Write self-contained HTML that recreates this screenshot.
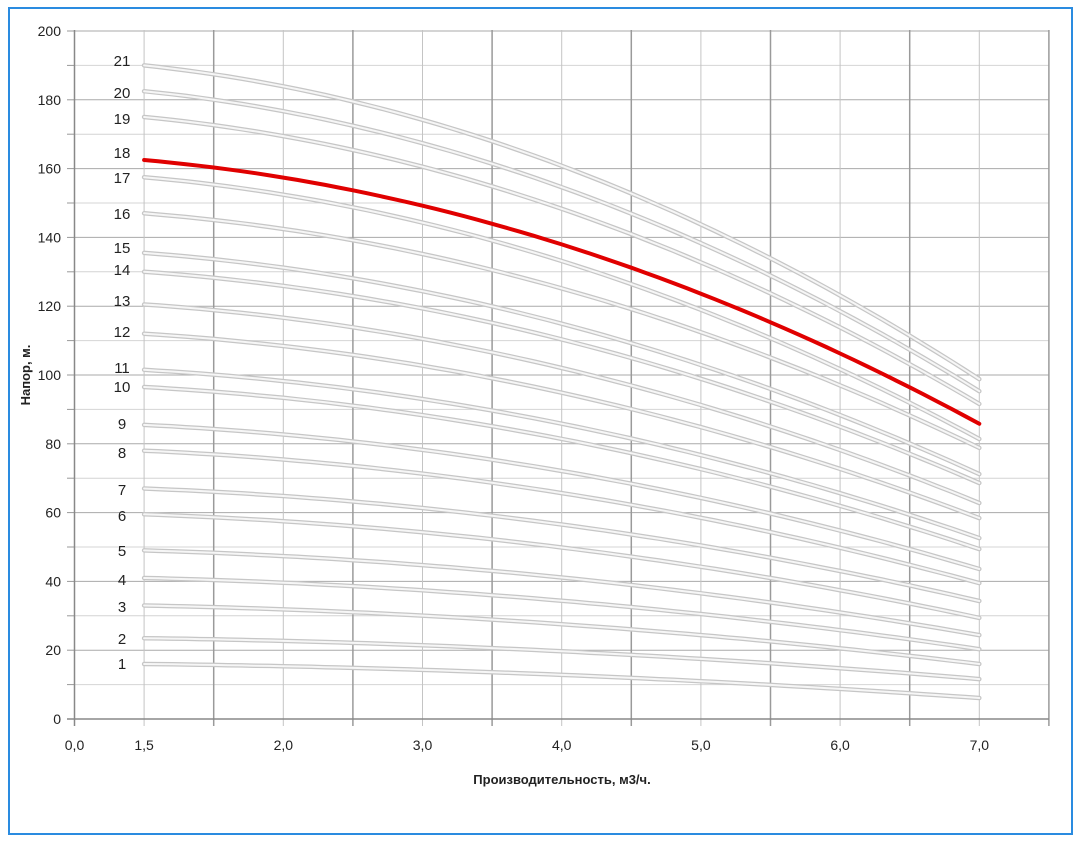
<!DOCTYPE html>
<html><head><meta charset="utf-8"><style>
html,body{margin:0;padding:0;background:#fff}
svg{display:block}
text{font-family:"Liberation Sans",sans-serif;font-size:14px;fill:#222}
</style></head><body>
<svg id="s" width="1080" height="842" xmlns="http://www.w3.org/2000/svg">
<rect x="0" y="0" width="1080" height="842" fill="#fff"/>
<rect x="9" y="8" width="1063" height="826" fill="none" stroke="#2a8be0" stroke-width="2"/>
<g id="g"></g>
</svg>
<script>
const g=document.getElementById('g');
let h='';
const X0=74.5,DX=69.6,Y0=719,YS=3.44;
const Y=v=>Y0-v*YS;
for(let v=10;v<=200;v+=10){const y=Y(v);h+=`<line x1="${X0}" y1="${y}" x2="${X0+14*DX}" y2="${y}" stroke="${v%20?'#d4d4d4':'#aaaaaa'}" stroke-width="1"/>`;
h+=`<line x1="67" y1="${y}" x2="${X0}" y2="${y}" stroke="#999"/>`;}
for(let k=1;k<=14;k++){const x=X0+k*DX;h+=`<line x1="${x}" y1="30" x2="${x}" y2="${Y0+7}" stroke="${k%2?'#c4c4c4':'#9a9a9a'}" stroke-width="${k%2?1:1.5}"/>`;}
h+=`<line x1="${X0}" y1="30" x2="${X0}" y2="${Y0+7}" stroke="#888" stroke-width="1.5"/>`;
h+=`<line x1="67" y1="${Y0}" x2="${X0+14*DX}" y2="${Y0}" stroke="#888" stroke-width="1.5"/>`;
for(let v=0;v<=200;v+=20)h+=`<text x="61" y="${Y(v)+5}" text-anchor="end">${v}</text>`;
const xl=[[0,'0,0'],[1,'1,5'],[3,'2,0'],[5,'3,0'],[7,'4,0'],[9,'5,0'],[11,'6,0'],[13,'7,0']];
xl.forEach(([k,t])=>h+=`<text x="${X0+k*DX}" y="750" text-anchor="middle">${t}</text>`);
const S=[16,23.5,33,41,49,59.5,67,78,85.5,96.5,101.5,112,120.5,130,135.5,147,157.5,162.5,175,182.5,190];
const E=[6.1,11.6,16,20.3,24.4,29.4,34.3,39.5,43.6,49.4,52.6,58.4,62.8,68.6,71.2,78.8,81.4,85.8,91.6,95.3,98.8];
const LY=[664,639,607,580,551,516,490,453,424,387,368,332,301,270,248,214,178,153,119,93,61];
const xa=X0+DX,xb=X0+13*DX;
function path(i){let p='';for(let j=0;j<=60;j++){const t=j/60;const f=0.28*t+0.72*t*t;const v=S[i]-(S[i]-E[i])*f;p+=(j?'L':'M')+(xa+t*(xb-xa)).toFixed(1)+','+Y(v).toFixed(1);}return p;}
for(let i=0;i<21;i++){if(i==17)continue;const p=path(i);
h+=`<path d="${p}" fill="none" stroke="#c6c6c6" stroke-width="4.5" stroke-linecap="round"/><path d="${p}" fill="none" stroke="#f6f6f6" stroke-width="2" stroke-linecap="round"/>`;}
h+=`<path d="${path(17)}" fill="none" stroke="#e00000" stroke-width="4" stroke-linecap="round"/>`;
for(let i=0;i<21;i++)h+=`<text x="122" y="${LY[i]+5}" text-anchor="middle" style="font-size:15px">${i+1}</text>`;
h+=`<text x="562" y="784" text-anchor="middle" style="font-weight:bold;font-size:13px">Производительность, м3/ч.</text>`;
h+=`<text transform="translate(30,375) rotate(-90)" text-anchor="middle" style="font-weight:bold;font-size:13px">Напор, м.</text>`;
g.innerHTML=h;
</script>
</body></html>
